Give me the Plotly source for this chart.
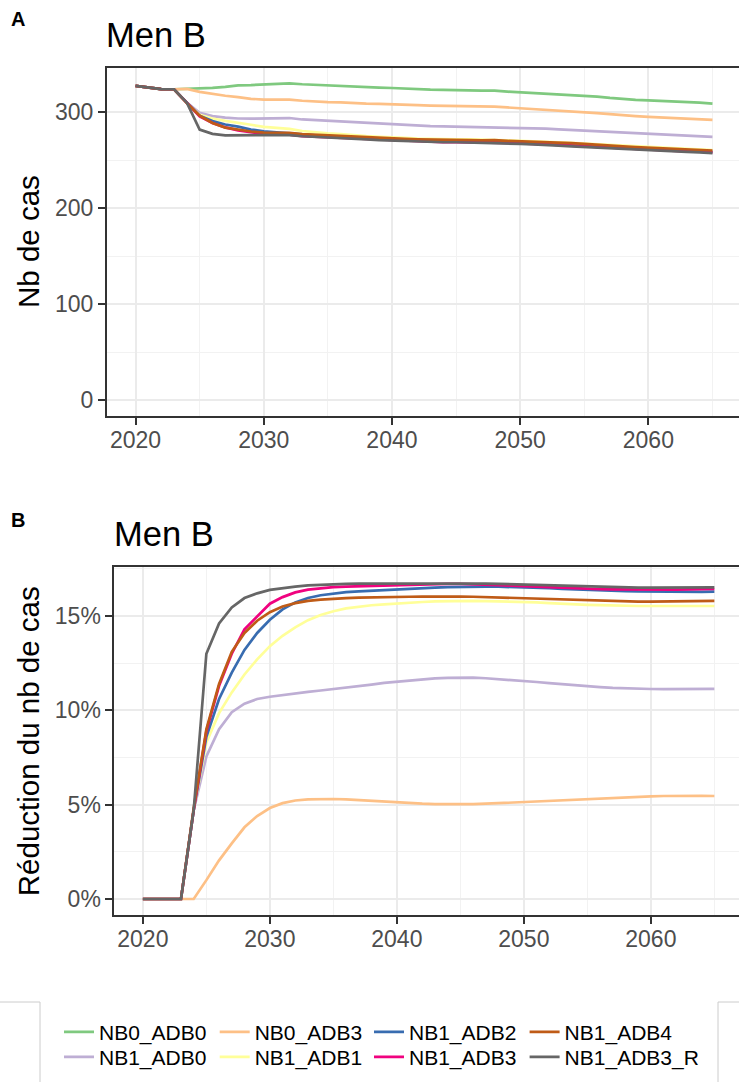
import plotly.graph_objects as go

years = list(range(2020, 2066))
series_names = ["NB0_ADB0", "NB1_ADB0", "NB0_ADB3", "NB1_ADB1",
                "NB1_ADB2", "NB1_ADB3", "NB1_ADB4", "NB1_ADB3_R"]
colors = ["#7fc97f", "#beaed4", "#fdc086", "#ffff99",
          "#386cb0", "#f0027f", "#bf5b17", "#666666"]

start = [327.5, 325.5, 324.2, 324.0]

# Panel A: number of cases
cases_NB0_ADB0 = start + [324.3, 324.5, 325.5, 326.5, 328.0, 328.3, 328.8, 329.5, 330.2, 329.2,
    328.5, 328.0, 327.8, 326.8, 326.2, 325.7, 325.3, 324.5, 324.0, 323.5,
    323.3, 323.3, 322.8, 322.5, 322.5, 321.5, 320.8, 320.2, 319.8, 319.0,
    318.0, 317.0, 316.3, 315.0, 313.8, 313.0, 312.3, 311.8, 311.0, 310.3,
    310.0, 309.0]
cases_NB1_ADB0 = start + [310.0, 299.5, 296.0, 294.5, 293.5, 293.3, 293.5, 293.7, 294.0, 292.5,
    291.8, 291.0, 290.3, 289.2, 288.5, 288.0, 287.8, 286.8, 286.0, 285.5,
    285.3, 285.0, 284.8, 284.5, 284.6, 284.0, 283.6, 283.2, 283.0, 282.2,
    281.5, 280.8, 280.4, 279.5, 278.8, 278.0, 277.5, 277.0, 276.3, 275.6,
    275.2, 274.3]
cases_NB0_ADB3 = start + [324.3, 321.2, 319.0, 317.2, 315.8, 314.0, 313.2, 313.0, 313.2, 312.0,
    311.2, 310.6, 310.4, 309.6, 309.0, 308.8, 308.6, 307.8, 307.4, 307.0,
    306.8, 306.6, 306.2, 306.0, 305.8, 305.0, 304.2, 303.5, 303.0, 302.0,
    301.0, 300.0, 299.2, 298.0, 296.8, 296.0, 295.2, 294.7, 294.0, 293.2,
    292.8, 292.0]
cases_NB1_ADB1 = start + [310.0, 297.5, 293.5, 291.0, 289.2, 287.0, 284.8, 283.5, 282.7, 280.5,
    279.0, 278.0, 277.2, 276.0, 275.2, 274.5, 274.2, 273.3, 272.7, 272.2,
    272.0, 271.9, 271.8, 271.6, 271.6, 270.8, 270.3, 269.9, 269.6, 268.9,
    268.1, 267.3, 266.7, 265.7, 264.9, 264.2, 263.6, 263.1, 262.4, 261.8,
    261.3, 260.6]
cases_NB1_ADB2 = start + [310.0, 296.5, 290.8, 287.3, 285.0, 282.0, 280.2, 279.0, 278.2, 276.6,
    275.6, 274.8, 274.4, 273.4, 272.6, 272.0, 271.9, 271.1, 270.5, 270.0,
    269.8, 269.8, 269.6, 269.4, 269.4, 268.6, 268.0, 267.6, 267.3, 266.6,
    265.8, 265.0, 264.5, 263.5, 262.7, 262.0, 261.5, 261.0, 260.3, 259.8,
    259.4, 258.8]
cases_NB1_ADB3 = start + [309.8, 295.8, 288.8, 284.2, 281.2, 279.3, 277.5, 276.8, 276.8, 275.2,
    274.6, 274.0, 273.6, 272.6, 271.9, 271.3, 271.0, 270.3, 269.8, 269.3,
    269.0, 269.0, 268.8, 268.7, 268.8, 268.1, 267.6, 267.2, 266.9, 266.1,
    265.3, 264.6, 264.1, 263.0, 262.1, 261.5, 260.9, 260.5, 259.9, 259.3,
    258.9, 258.2]
cases_NB1_ADB4 = start + [309.5, 296.5, 288.8, 284.0, 282.0, 280.0, 278.8, 278.5, 278.5, 277.2,
    276.5, 275.8, 275.4, 274.5, 273.8, 273.2, 273.0, 272.3, 271.8, 271.4,
    271.2, 271.2, 270.9, 270.8, 270.9, 270.2, 269.8, 269.4, 269.2, 268.5,
    267.8, 267.0, 266.4, 265.4, 264.5, 263.8, 263.2, 262.7, 262.0, 261.4,
    261.0, 260.2]
cases_NB1_ADB3_R = start + [310.0, 282.0, 277.5, 276.0, 276.0, 275.8, 276.0, 276.0, 276.2, 275.0,
    274.5, 274.0, 273.5, 272.5, 271.8, 271.0, 270.5, 269.8, 269.5, 269.2,
    268.8, 268.8, 268.5, 268.2, 268.2, 267.5, 267.0, 266.5, 266.2, 265.2,
    264.5, 263.8, 263.2, 262.2, 261.5, 261.0, 260.3, 259.8, 259.3, 258.7,
    258.3, 257.5]

# Panel B: reduction in number of cases (%)
zero = [0.0, 0.0, 0.0, 0.0]
red_NB1_ADB0 = zero + [4.7, 7.55, 9.0, 9.9, 10.35, 10.6, 10.72, 10.82, 10.9, 10.98,
    11.05, 11.12, 11.2, 11.28, 11.36, 11.45, 11.52, 11.58, 11.64, 11.69,
    11.72, 11.74, 11.73, 11.7, 11.66, 11.61, 11.56, 11.5, 11.44, 11.38,
    11.32, 11.27, 11.23, 11.19, 11.16, 11.14, 11.13, 11.12, 11.12, 11.12,
    11.13, 11.14]
red_NB0_ADB3 = zero + [0.0, 1.0, 2.05, 2.95, 3.8, 4.4, 4.82, 5.08, 5.22, 5.28,
    5.3, 5.3, 5.28, 5.24, 5.19, 5.14, 5.1, 5.07, 5.05, 5.03,
    5.02, 5.02, 5.03, 5.05, 5.08, 5.11, 5.14, 5.18, 5.21, 5.25,
    5.28, 5.31, 5.35, 5.38, 5.4, 5.42, 5.44, 5.46, 5.47, 5.47,
    5.47, 5.46]
red_NB1_ADB1 = zero + [4.7, 8.3, 9.85, 10.95, 11.9, 12.7, 13.4, 13.95, 14.4, 14.78,
    15.05, 15.25, 15.4, 15.5, 15.57, 15.62, 15.67, 15.71, 15.74, 15.77,
    15.79, 15.8, 15.8, 15.79, 15.78, 15.77, 15.75, 15.72, 15.68, 15.64,
    15.61, 15.59, 15.57, 15.55, 15.54, 15.53, 15.53, 15.53, 15.53, 15.53,
    15.53, 15.53]
red_NB1_ADB2 = zero + [4.7, 8.6, 10.6, 12.0, 13.2, 14.1, 14.8, 15.35, 15.72, 15.95,
    16.1, 16.2, 16.26, 16.3, 16.34, 16.37, 16.4, 16.43, 16.47, 16.5,
    16.53, 16.55, 16.56, 16.56, 16.55, 16.54, 16.53, 16.5, 16.47, 16.44,
    16.41, 16.39, 16.36, 16.34, 16.32, 16.3, 16.29, 16.28, 16.28, 16.28,
    16.28, 16.29]
red_NB1_ADB3 = zero + [4.7, 8.9, 11.3, 13.0, 14.3, 15.0, 15.65, 16.0, 16.25, 16.4,
    16.48, 16.53, 16.56, 16.58, 16.6, 16.61, 16.62, 16.64, 16.66, 16.68,
    16.7, 16.7, 16.69, 16.67, 16.64, 16.61, 16.58, 16.55, 16.52, 16.49,
    16.46, 16.44, 16.42, 16.41, 16.4, 16.4, 16.4, 16.4, 16.4, 16.41,
    16.42, 16.43]
red_NB1_ADB4 = zero + [4.8, 9.0, 11.4, 13.1, 14.1, 14.75, 15.2, 15.5, 15.68, 15.8,
    15.87, 15.92, 15.95, 15.97, 15.99, 16.0, 16.01, 16.02, 16.03, 16.04,
    16.04, 16.03, 16.02, 16.0, 15.98, 15.96, 15.93, 15.9, 15.87, 15.85,
    15.83, 15.81, 15.79, 15.78, 15.77, 15.76, 15.76, 15.76, 15.77, 15.78,
    15.79, 15.8]
red_NB1_ADB3_R = zero + [4.7, 13.0, 14.6, 15.45, 15.95, 16.2, 16.38, 16.48, 16.56, 16.62,
    16.66, 16.68, 16.7, 16.72, 16.72, 16.73, 16.73, 16.74, 16.74, 16.74,
    16.74, 16.74, 16.73, 16.72, 16.7, 16.68, 16.67, 16.65, 16.62, 16.6,
    16.57, 16.55, 16.53, 16.52, 16.51, 16.5, 16.5, 16.5, 16.5, 16.5,
    16.5, 16.52]

cases = [cases_NB0_ADB0, cases_NB1_ADB0, cases_NB0_ADB3, cases_NB1_ADB1,
         cases_NB1_ADB2, cases_NB1_ADB3, cases_NB1_ADB4, cases_NB1_ADB3_R]
reductions = [None, red_NB1_ADB0, red_NB0_ADB3, red_NB1_ADB1,
              red_NB1_ADB2, red_NB1_ADB3, red_NB1_ADB4, red_NB1_ADB3_R]

x_ticks = [2020, 2030, 2040, 2050, 2060]
y1_ticks = [0, 100, 200, 300]
y2_ticks = [0, 5, 10, 15]
y2_labels = ["0%", "5%", "10%", "15%"]

# legend grid: 4 columns x 2 rows (column-major order of the series)
legend_cols_px = [59, 214.7, 369, 524.6]
legend_rows_px = [1030.7, 1055.7]

W, H = 739, 1082
FONT = "Liberation Sans, Arial, Helvetica, sans-serif"
LW = 2.7

def px_x(p):
    return p / W

def px_y(p):
    return 1 - p / H

fig = go.Figure()
legend_layout = {}
for i, (name, col, vals) in enumerate(zip(series_names, colors, cases)):
    key = "legend" if i == 0 else f"legend{i + 1}"
    fig.add_trace(go.Scatter(x=years, y=vals, mode="lines", name=name,
                             line=dict(color=col, width=LW), legend=key,
                             xaxis="x", yaxis="y"))
    legend_layout[key] = dict(
        orientation="v", xanchor="left", yanchor="top",
        x=px_x(legend_cols_px[i // 2]), y=px_y(legend_rows_px[i % 2] - 19),
        font=dict(family=FONT, size=21, color="black"),
        bgcolor="rgba(0,0,0,0)")
for name, col, vals in zip(series_names, colors, reductions):
    if vals is None:
        continue
    fig.add_trace(go.Scatter(x=years, y=vals, mode="lines", name=name,
                             line=dict(color=col, width=LW), showlegend=False,
                             xaxis="x2", yaxis="y2"))

tickfont = dict(family=FONT, size=23, color="#4d4d4d")
axis_common = dict(
    showline=True, linecolor="#333333", linewidth=1.7,
    ticks="outside", ticklen=7, tickwidth=1.8, tickcolor="#333333",
    showgrid=True, gridcolor="#ebebeb", gridwidth=2.2,
    zeroline=False, tickfont=tickfont, tickmode="array",
)
minor_x = dict(dtick=5, tick0=2015, showgrid=True, gridcolor="#f2f2f2", gridwidth=1.1)

fig.update_layout(
    width=W, height=H,
    margin=dict(l=0, r=0, t=0, b=0),
    paper_bgcolor="white", plot_bgcolor="white",
    font=dict(family=FONT),
    xaxis=dict(domain=[px_x(106.7), 1], range=[2017.75, 2067.07], anchor="y",
               tickvals=x_ticks, minor=minor_x, mirror=True, ticklabelstandoff=-4,
               **axis_common),
    yaxis=dict(domain=[px_y(415.7), px_y(68.3)], range=[-16.04, 345.8], anchor="x",
               tickvals=y1_ticks,
               minor=dict(dtick=50, tick0=0, showgrid=True, gridcolor="#f2f2f2", gridwidth=1.1),
               **axis_common),
    xaxis2=dict(domain=[px_x(114.3), 1], range=[2017.75, 2066.94], anchor="y2",
                tickvals=x_ticks, minor=minor_x, mirror=True, ticklabelstandoff=-4,
                **axis_common),
    yaxis2=dict(domain=[px_y(915), px_y(567.3)], range=[-0.848, 17.58], anchor="x2",
                tickvals=y2_ticks, ticktext=y2_labels,
                minor=dict(dtick=2.5, tick0=0, showgrid=True, gridcolor="#f2f2f2", gridwidth=1.1),
                **axis_common),
    showlegend=True,
    **legend_layout,
)

def ann(text, x, y, size, bold=False, angle=0, xanchor="left", yanchor="middle"):
    fig.add_annotation(text=f"<b>{text}</b>" if bold else text, x=px_x(x), y=px_y(y),
                       xref="paper", yref="paper", showarrow=False, textangle=angle,
                       xanchor=xanchor, yanchor=yanchor,
                       font=dict(family=FONT, size=size, color="black"))

ann("A", 9, 19.5, 20, bold=True)
ann("B", 9, 520, 20, bold=True)
ann("Men B", 104, 35, 34.5)
ann("Men B", 111.5, 534, 34.5)
ann("Nb de cas", 29, 242, 29.5, angle=-90, xanchor="center")
ann("Réduction du nb de cas", 28.5, 741.7, 29.5, angle=-90, xanchor="center")

frame = "#cccccc"
for x0, y0, x1, y1 in [(0, 1002, 40, 1002), (40, 1002, 40, H),
                       (718, 1002, 718, H), (718, 1002, W, 1002)]:
    fig.add_shape(type="line", xref="paper", yref="paper",
                  x0=px_x(x0), y0=px_y(y0), x1=px_x(x1), y1=px_y(y1),
                  line=dict(color=frame, width=1))

fig.write_html(
    "out.html",
    config={"displayModeBar": False},
    post_script="document.body.style.margin='0';document.body.style.overflow='hidden';"
                "document.documentElement.style.overflow='hidden';",
)
